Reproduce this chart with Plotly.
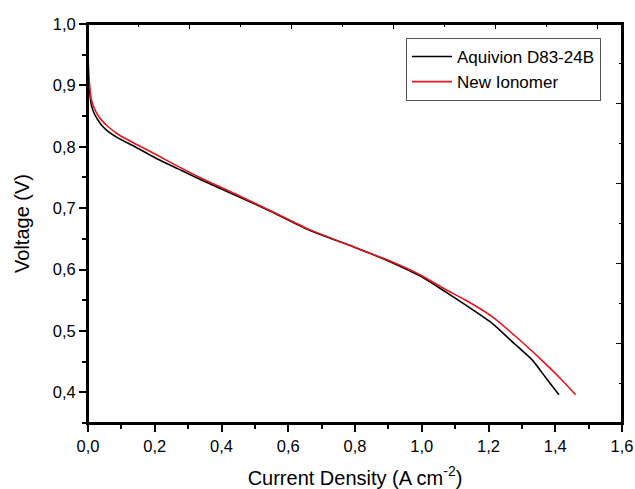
import plotly.graph_objects as go

# Current density (A cm-2) and voltage (V)
aquivion_x = [0, 0.002, 0.005, 0.01, 0.018, 0.028, 0.041, 0.06, 0.091, 0.141, 0.205, 0.27, 0.335,
              0.45, 0.55, 0.664, 0.8, 0.9, 1.0, 1.07, 1.132, 1.212, 1.27, 1.332, 1.37, 1.411]
aquivion_v = [0.925, 0.908, 0.89, 0.868, 0.855, 0.845, 0.835, 0.825, 0.814, 0.800, 0.781, 0.764, 0.747,
              0.719, 0.694, 0.664, 0.636, 0.614, 0.588, 0.564, 0.542, 0.512, 0.483, 0.452, 0.425, 0.396]

new_x = [0, 0.002, 0.005, 0.01, 0.018, 0.028, 0.041, 0.06, 0.091, 0.141, 0.205, 0.27, 0.335,
         0.45, 0.55, 0.664, 0.8, 0.9, 1.0, 1.07, 1.132, 1.212, 1.292, 1.372, 1.42, 1.461]
new_v = [0.952, 0.925, 0.9, 0.877, 0.864, 0.853, 0.843, 0.833, 0.820, 0.805, 0.787, 0.768, 0.750,
         0.721, 0.695, 0.665, 0.636, 0.615, 0.590, 0.568, 0.550, 0.523, 0.486, 0.446, 0.42, 0.396]

series_names = ["Aquivion D83-24B", "New Ionomer"]
x_title = "Current Density (A cm<sup>-2</sup>)"
y_title = "Voltage (V)"

FONT = "Liberation Sans, Arial, sans-serif"

fig = go.Figure()
fig.add_trace(go.Scatter(x=aquivion_x, y=aquivion_v, mode="lines", name=series_names[0],
                         line=dict(color="black", width=1.6, shape="spline", smoothing=0.6)))
fig.add_trace(go.Scatter(x=new_x, y=new_v, mode="lines", name=series_names[1],
                         line=dict(color="#e8141a", width=1.6, shape="spline", smoothing=0.6)))
# invisible trace to carry the mirrored (top/right) frame axes
fig.add_trace(go.Scatter(x=[None], y=[None], xaxis="x2", yaxis="y2", showlegend=False,
                         hoverinfo="skip", mode="lines"))

axis_common = dict(showgrid=False, zeroline=False, showline=True, linecolor="black",
                   linewidth=2, mirror=False, automargin=False)

fig.update_layout(
    width=635, height=489, autosize=False,
    margin=dict(l=88, r=13, t=24, b=66),
    paper_bgcolor="white", plot_bgcolor="white",
    separators=",.",
    font=dict(family=FONT, color="black", size=16),
    showlegend=True,
    legend=dict(x=0.5955, y=0.965, xanchor="left", yanchor="top",
                bgcolor="white", bordercolor="#555555", borderwidth=1,
                font=dict(family=FONT, size=17, color="black"),
                tracegroupgap=0, itemwidth=40),
    xaxis=dict(range=[0, 1.6], dtick=0.2, tick0=0, tickformat=".1f",
               ticks="outside", ticklen=7, tickwidth=1.6, tickcolor="black",
               minor=dict(dtick=0.1, ticks="outside", ticklen=4, tickwidth=1.6, tickcolor="black"),
               tickfont=dict(size=16.5), ticklabeloverflow="allow",
               title=dict(text=x_title, font=dict(size=20), standoff=17),
               **axis_common),
    yaxis=dict(range=[0.35, 1.0], dtick=0.1, tick0=0, tickformat=".1f",
               ticks="outside", ticklen=7, tickwidth=1.6, tickcolor="black",
               minor=dict(dtick=0.05, ticks="outside", ticklen=4, tickwidth=1.6, tickcolor="black"),
               tickfont=dict(size=16.5),
               title=dict(text=y_title, font=dict(size=20), standoff=18),
               **axis_common),
    xaxis2=dict(overlaying="x", side="top", anchor="y", range=[0, 5.245], dtick=1, tick0=0,
                showticklabels=False, ticks="inside", ticklen=5, tickwidth=1.4, tickcolor="black",
                minor=dict(dtick=0.5, ticks="inside", ticklen=3, tickwidth=1.4, tickcolor="black"),
                **axis_common),
    yaxis2=dict(overlaying="y", side="right", anchor="x", range=[0, 4.99], dtick=1, tick0=0,
                showticklabels=False, ticks="inside", ticklen=6, tickwidth=1.4, tickcolor="black",
                minor=dict(dtick=0.5, ticks="inside", ticklen=3, tickwidth=1.4, tickcolor="black"),
                **axis_common),
    shapes=[dict(type="rect", xref="paper", yref="paper", x0=0, x1=1, y0=0, y1=1,
                 line=dict(color="black", width=2), fillcolor="rgba(0,0,0,0)", layer="above")],
)

fig.write_html("out.html", config={"displayModeBar": False, "responsive": False},
               post_script="document.body.style.margin='0';document.body.style.overflow='hidden';")
